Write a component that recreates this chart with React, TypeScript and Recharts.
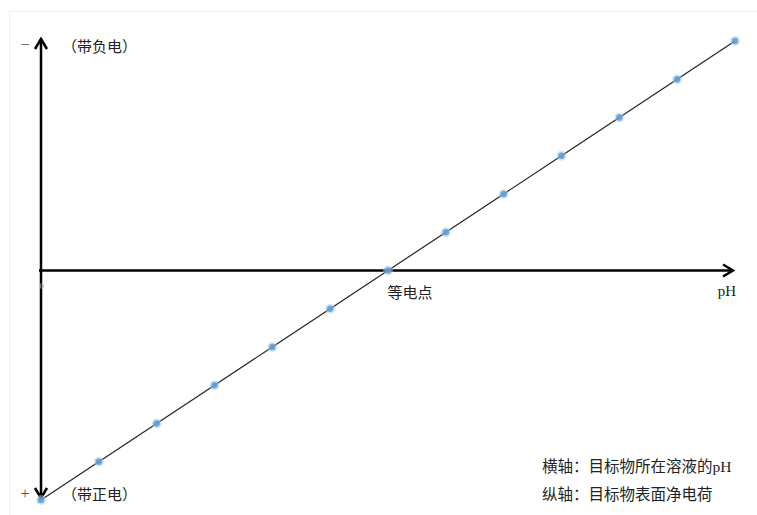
import React from "react";
import {
  ComposedChart,
  Line,
  XAxis,
  YAxis,
  ReferenceLine,
} from "recharts";

// pH 刻度位置（0..12）与表面净电荷（-6..6）
const phValues = [0, 1, 2, 3, 4, 5, 6, 7, 8, 9, 10, 11, 12];
const chargeValues = [-6, -5, -4, -3, -2, -1, 0, 1, 2, 3, 4, 5, 6];

const xDomain = [0, 12];
const yDomain = [-6, 6];

const data = phValues.map((ph, i) => ({ ph, charge: chargeValues[i] }));

const FONT = '"Liberation Serif", "Noto Sans CJK SC", serif';

// 横轴：一端箭头
const XArrowLine = (props: any) => {
  const { x1, y1, x2, y2 } = props;
  const tip = x2 - 2;
  return (
    <g>
      <line x1={x1 - 2} y1={y1} x2={tip} y2={y2} stroke="#000" strokeWidth={2.5} />
      <polyline
        points={`${tip - 10},${y2 - 6} ${tip},${y2} ${tip - 10},${y2 + 6}`}
        fill="none"
        stroke="#000"
        strokeWidth={2.5}
      />
    </g>
  );
};

// 纵轴：两端箭头
const YArrowLine = (props: any) => {
  const { x1, y1, x2, y2 } = props;
  const top = Math.min(y1, y2) - 2;
  const bottom = Math.max(y1, y2) - 2;
  return (
    <g>
      <line x1={x1} y1={top} x2={x2} y2={bottom} stroke="#000" strokeWidth={2.5} />
      <polyline
        points={`${x1 - 6},${top + 10} ${x1},${top} ${x1 + 6},${top + 10}`}
        fill="none"
        stroke="#000"
        strokeWidth={2.5}
      />
      <polyline
        points={`${x1 - 6},${bottom - 10} ${x1},${bottom} ${x1 + 6},${bottom - 10}`}
        fill="none"
        stroke="#000"
        strokeWidth={2.5}
      />
    </g>
  );
};

const BlurDot = (props: any) => {
  const { cx, cy } = props;
  if (cx == null || cy == null) return null;
  return (
    <g>
      <circle cx={cx} cy={cy} r={5} fill="#a9cbea" opacity={0.5} />
      <circle cx={cx} cy={cy} r={3.2} fill="#5b9bd5" opacity={0.85} />
    </g>
  );
};

const labels = [
  { text: "−", x: 25, y: 50, size: 17, anchor: "middle", color: "#555" },
  { text: "（带负电）", x: 62, y: 52, size: 15, anchor: "start", color: "#222" },
  { text: "+", x: 25, y: 499, size: 16, anchor: "middle", color: "#555" },
  { text: "（带正电）", x: 62, y: 500, size: 15, anchor: "start", color: "#222" },
  { text: "等电点", x: 410, y: 298, size: 15, anchor: "middle", color: "#222" },
  { text: "pH", x: 727, y: 296, size: 15, anchor: "middle", color: "#222" },
  { text: "0", x: 42, y: 289, size: 9, anchor: "middle", color: "#bbb" },
  { text: "横轴：目标物所在溶液的pH", x: 542, y: 472, size: 15.5, anchor: "start", color: "#222" },
  { text: "纵轴：目标物表面净电荷", x: 542, y: 500, size: 15.5, anchor: "start", color: "#222" },
];

export default function App() {
  return (
    <div style={{ position: "absolute", left: 0, top: 0, width: 757, height: 515, background: "#fff" }}>
      <svg
        width={757}
        height={515}
        style={{ position: "absolute", left: 0, top: 0 }}
      >
        <rect x={9.5} y={11.5} width={760} height={520} fill="none" stroke="#eee" strokeWidth={1} />
      </svg>
      <div style={{ position: "absolute", left: 0, top: 0 }}>
        <ComposedChart
          width={757}
          height={515}
          data={data}
          margin={{ top: 41, right: 22, bottom: 15, left: 41 }}
        >
          <XAxis dataKey="ph" type="number" domain={xDomain} hide />
          <YAxis type="number" domain={yDomain} hide />
          <ReferenceLine y={0} stroke="#000" shape={XArrowLine} ifOverflow="visible" />
          <ReferenceLine x={0} stroke="#000" shape={YArrowLine} ifOverflow="visible" />
          <Line
            dataKey="charge"
            type="linear"
            stroke="#222"
            strokeWidth={1.2}
            dot={<BlurDot />}
            activeDot={false}
            isAnimationActive={false}
          />
        </ComposedChart>
      </div>
      <svg
        width={757}
        height={515}
        style={{ position: "absolute", left: 0, top: 0, pointerEvents: "none" }}
      >
        {labels.map((l) => (
          <text
            key={l.text}
            x={l.x}
            y={l.y}
            fontSize={l.size}
            textAnchor={l.anchor as any}
            fill={l.color}
            fontFamily={FONT}
          >
            {l.text}
          </text>
        ))}
      </svg>
    </div>
  );
}
